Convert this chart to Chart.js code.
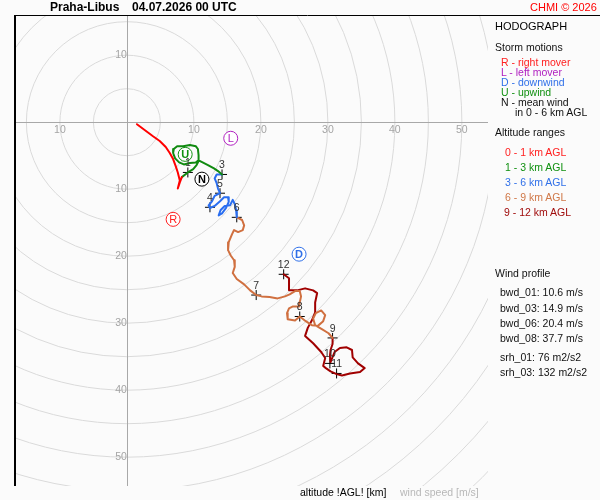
<!DOCTYPE html>
<html lang="cs">
<head>
  <meta charset="UTF-8">
  <title>Hodograph Praha-Libus</title>
  <script src="https://cdn.jsdelivr.net/npm/chart.js"></script>
  <style>
    html, body { margin: 0; padding: 0; background: #fbfbfb; }
    #wrap { position: relative; width: 600px; height: 500px; font-family: "Liberation Sans", Arial, sans-serif; }
    canvas { display: block; }
    .t { position: absolute; white-space: nowrap; line-height: 12px; font-size: 10.5px; color: #111; }
  </style>
</head>
<body>
<div id="wrap">
  <canvas id="hodo" width="600" height="500"></canvas>

  <!-- hlavicka -->
  <div class="t" style="left:50px; top:1px; font-size:12px; font-weight:bold; color:#000">Praha-Libus</div>
  <div class="t" style="left:132px; top:1px; font-size:12px; font-weight:bold; color:#000">04.07.2026 00 UTC</div>
  <div class="t" style="left:530px; top:1px; font-size:11px; color:#f00">CHMI © 2026</div>

  <!-- legenda -->
  <div class="t" style="left:495px; top:20px; font-size:11px; color:#000">HODOGRAPH</div>
  <div class="t" style="left:495px; top:41px">Storm motions</div>
  <div class="t" style="left:501px; top:56px; color:#ff2020">R - right mover</div>
  <div class="t" style="left:501px; top:66px; color:#b020c0">L - left mover</div>
  <div class="t" style="left:501px; top:76px; color:#3070e8">D - downwind</div>
  <div class="t" style="left:501px; top:86px; color:#109010">U - upwind</div>
  <div class="t" style="left:501px; top:96px">N - mean wind</div>
  <div class="t" style="left:515px; top:106px">in 0 - 6 km AGL</div>
  <div class="t" style="left:495px; top:126px">Altitude ranges</div>
  <div class="t" style="left:505px; top:146px; color:#ff2020">0 - 1 km AGL</div>
  <div class="t" style="left:505px; top:161px; color:#109010">1 - 3 km AGL</div>
  <div class="t" style="left:505px; top:176px; color:#3070e8">3 - 6 km AGL</div>
  <div class="t" style="left:505px; top:191px; color:#d07848">6 - 9 km AGL</div>
  <div class="t" style="left:504px; top:206px; color:#a00c0c">9 - 12 km AGL</div>

  <div class="t" style="left:495px; top:267px">Wind profile</div>
  <div class="t" style="left:500px; top:286px">bwd_01: 10.6 m/s</div>
  <div class="t" style="left:500px; top:302px">bwd_03: 14.9 m/s</div>
  <div class="t" style="left:500px; top:317px">bwd_06: 20.4 m/s</div>
  <div class="t" style="left:500px; top:332px">bwd_08: 37.7 m/s</div>
  <div class="t" style="left:500px; top:351px">srh_01: 76 m2/s2</div>
  <div class="t" style="left:500px; top:366px">srh_03: 132 m2/s2</div>

  <div class="t" style="left:300px; top:486px; color:#000">altitude !AGL! [km]</div>
  <div class="t" style="left:400px; top:486px; color:#b8b8b8">wind speed [m/s]</div>
</div>

<script>
  // rozsah os (m/s)
  const uRange = [-16.7, 53.9];
  const vRange = [-54.3, 16.0];
  const ringSpeeds = [5, 10, 15, 20, 25, 30, 35, 40, 45, 50, 55, 60, 65, 70, 75];
  const xTickLabels = [-10, 10, 20, 30, 40, 50];
  const yTickLabels = [10, -10, -20, -30, -40, -50];

  // hodograf po vrstvach: [u, v] v m/s
  const layer_0_1 = [[1.5,-0.3],[2.7,-1.2],[3.9,-2.1],[4.9,-2.8],[5.8,-3.7],[6.4,-4.6],[6.9,-5.5],
    [7.3,-6.6],[7.6,-7.5],[7.9,-8.7],[7.6,-9.9],[7.9,-9.0],[8.2,-8.2]];
  const layer_1_3 = [[8.2,-8.2],[9.1,-7.5],[9.9,-7.0],[10.4,-6.4],[10.7,-5.8],[10.7,-4.9],[10.6,-4.0],
    [10.3,-3.6],[9.4,-3.4],[8.4,-3.6],[7.5,-3.6],[7.0,-4.0],[6.9,-4.6],[7.2,-5.4],[7.8,-6.0],
    [8.5,-6.3],[9.4,-6.1],[10.3,-6.0],[10.7,-5.7],[11.3,-6.0],[12.1,-6.4],[13.0,-6.9],[13.6,-7.3],[14.2,-7.8]];
  const layer_3_6 = [[14.2,-7.8],[13.4,-7.8],[13.1,-8.4],[13.4,-9.1],[13.6,-9.9],[13.9,-10.6],[13.1,-11.0],
    [12.7,-11.8],[12.2,-12.4],[12.4,-12.8],[13.1,-12.5],[13.9,-11.8],[14.5,-11.2],[15.1,-11.2],
    [15.2,-11.9],[14.8,-12.8],[14.2,-13.6],[13.7,-13.9],[14.0,-13.1],[14.6,-12.5],[15.4,-12.4],
    [15.8,-11.6],[16.1,-12.2],[16.3,-13.1],[16.4,-14.2]];
  const layer_6_9 = [[16.4,-14.2],[17.2,-14.6],[17.5,-15.4],[17.3,-16.1],[16.6,-16.4],[16.0,-16.1],
    [15.7,-16.7],[15.2,-17.9],[15.1,-19.1],[15.5,-19.9],[16.0,-20.6],[16.1,-21.6],[15.8,-22.5],
    [16.4,-23.4],[17.5,-24.2],[18.4,-25.1],[19.3,-25.8],[20.1,-26.0],[21.3,-26.1],[22.5,-26.3],
    [23.6,-26.0],[24.3,-25.7],[25.1,-25.2],[25.8,-25.2],[26.0,-26.0],[25.8,-26.9],[25.7,-27.5],
    [24.8,-27.5],[24.2,-27.8],[23.9,-28.5],[24.0,-29.4],[25.1,-29.6],[25.8,-29.0],[26.7,-29.7],
    [27.6,-30.3],[28.5,-30.4],[29.3,-29.7],[29.6,-28.8],[29.0,-28.1],[28.2,-28.5],[27.8,-29.3],
    [28.1,-30.3],[29.1,-30.9],[30.1,-31.5],[30.7,-32.2]];
  const layer_9_12 = [[30.7,-32.2],[30.7,-33.1],[30.4,-34.0],[30.3,-34.9],[30.4,-35.8],[31.0,-34.3],
    [31.8,-33.7],[32.8,-33.6],[33.6,-34.0],[33.7,-35.1],[34.5,-36.0],[35.5,-36.7],[34.8,-37.3],
    [33.3,-37.5],[32.1,-37.8],[31.3,-37.6],[30.4,-37.2],[29.7,-36.7],[29.3,-36.4],[29.6,-35.2],
    [29.0,-34.3],[27.8,-33.0],[26.6,-31.9],[27.0,-30.7],[27.6,-29.6],[28.1,-28.4],[28.1,-26.9],
    [28.4,-25.5],[27.8,-25.1],[26.6,-24.8],[25.4,-25.1],[24.3,-25.1],[24.2,-24.0],[24.2,-23.3],[23.4,-22.7]];

  // vyskove znacky (km)
  const altKm = [1, 3, 4, 5, 6, 7, 8, 9, 10, 11, 12];
  const altU  = [9.1, 14.2, 12.4, 13.9, 16.4, 19.3, 25.8, 30.7, 30.3, 31.3, 23.4];
  const altV  = [-7.5, -7.8, -12.7, -10.6, -14.2, -25.8, -29.0, -32.2, -36.0, -37.5, -22.7];

  // pohyby bouri
  const stormLetters = ['R', 'L', 'D', 'U', 'N'];
  const stormU = [6.9, 15.5, 25.7, 8.7, 11.2];
  const stormV = [-14.5, -2.4, -19.7, -4.8, -8.5];

  const stormColor = { R: '#ff2020', L: '#b020c0', D: '#3070e8', U: '#109010', N: '#000000' };
  const stormBold = { R: false, L: false, D: true, U: true, N: true };
  const FONT = '"Liberation Sans", Arial, sans-serif';

  const toXY = arr => arr.map(p => ({ x: p[0], y: p[1] }));

  const polarGrid = {
    id: 'polarGrid',
    beforeDatasetsDraw(chart) {
      const { ctx, chartArea: a, scales: { x, y } } = chart;
      const cx = x.getPixelForValue(0), cy = y.getPixelForValue(0);
      ctx.save();
      ctx.beginPath();
      ctx.rect(a.left, a.top, a.right - a.left, a.bottom - a.top);
      ctx.clip();
      ctx.strokeStyle = '#dadada';
      ctx.lineWidth = 1;
      ringSpeeds.forEach(s => {
        const r = x.getPixelForValue(s) - cx;
        ctx.beginPath();
        ctx.arc(cx, cy, r, 0, Math.PI * 2);
        ctx.stroke();
      });
      ctx.strokeStyle = '#a8a8a8';
      ctx.beginPath();
      ctx.moveTo(a.left, Math.round(cy) + 0.5);
      ctx.lineTo(a.right, Math.round(cy) + 0.5);
      ctx.moveTo(Math.round(cx) + 0.5, a.top);
      ctx.lineTo(Math.round(cx) + 0.5, a.bottom);
      ctx.stroke();
      ctx.fillStyle = '#a4a4a4';
      ctx.font = '10.5px ' + FONT;
      ctx.textAlign = 'center';
      ctx.textBaseline = 'middle';
      xTickLabels.forEach(v => ctx.fillText(String(Math.abs(v)), x.getPixelForValue(v), cy + 8));
      ctx.textAlign = 'right';
      yTickLabels.forEach(v => ctx.fillText(String(Math.abs(v)), cx, y.getPixelForValue(v)));
      ctx.restore();

      // ramecek
      ctx.save();
      ctx.strokeStyle = '#000';
      ctx.lineWidth = 2;
      ctx.beginPath();
      ctx.moveTo(a.left, a.bottom);
      ctx.lineTo(a.left, a.top);
      ctx.stroke();
      ctx.lineWidth = 1;
      ctx.beginPath();
      ctx.moveTo(a.left, a.top + 0.5);
      ctx.lineTo(chart.width, a.top + 0.5);
      ctx.stroke();
      ctx.restore();
    },
    afterDatasetsDraw(chart) {
      const ctx = chart.ctx;
      ctx.save();
      ctx.textAlign = 'center';
      ctx.textBaseline = 'middle';
      // popisky vysek
      ctx.font = '10.5px ' + FONT;
      ctx.fillStyle = '#333';
      chart.getDatasetMeta(5).data.forEach((pt, i) => {
        ctx.fillText(String(altKm[i]), pt.x, pt.y - 9);
      });
      // pismena bouri
      chart.getDatasetMeta(6).data.forEach((pt, i) => {
        const l = stormLetters[i];
        ctx.font = (stormBold[l] ? 'bold ' : '') + '11px ' + FONT;
        ctx.fillStyle = stormColor[l];
        ctx.fillText(l, pt.x, pt.y + 0.5);
      });
      ctx.restore();
    }
  };

  const lineSet = (data, color) => ({
    data: toXY(data),
    showLine: true,
    borderColor: color,
    borderWidth: 2,
    pointRadius: 0,
    borderJoinStyle: 'round',
    borderCapStyle: 'round',
    tension: 0
  });

  new Chart(document.getElementById('hodo'), {
    type: 'scatter',
    data: {
      datasets: [
        lineSet(layer_0_1, '#ff0000'),
        lineSet(layer_1_3, '#108a10'),
        lineSet(layer_3_6, '#2a6ef0'),
        lineSet(layer_6_9, '#d07040'),
        lineSet(layer_9_12, '#a00000'),
        {
          data: altU.map((u, i) => ({ x: u, y: altV[i] })),
          pointStyle: 'cross',
          pointRadius: 5,
          borderColor: '#000',
          borderWidth: 1,
          showLine: false
        },
        {
          data: stormU.map((u, i) => ({ x: u, y: stormV[i] })),
          pointStyle: 'circle',
          pointRadius: 7,
          backgroundColor: '#fff',
          borderColor: stormLetters.map(l => stormColor[l]),
          borderWidth: 1,
          showLine: false
        }
      ]
    },
    options: {
      responsive: false,
      animation: false,
      layout: { padding: { left: 15, top: 15, right: 112, bottom: 14 } },
      scales: {
        x: { type: 'linear', min: uRange[0], max: uRange[1], display: false },
        y: { type: 'linear', min: vRange[0], max: vRange[1], display: false }
      },
      plugins: { legend: { display: false }, tooltip: { enabled: false }, title: { display: false } }
    },
    plugins: [polarGrid]
  });
</script>
</body>
</html>
